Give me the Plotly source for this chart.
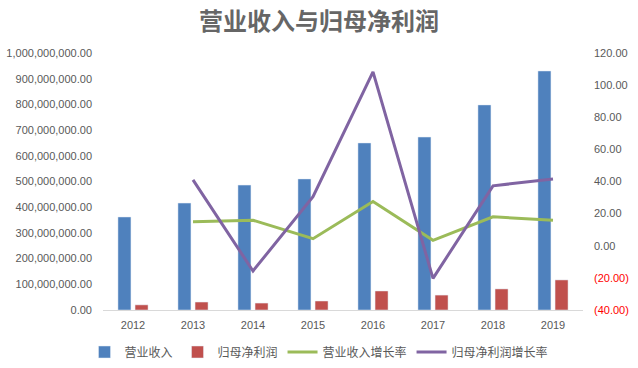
import plotly.graph_objects as go

years = ["2012", "2013", "2014", "2015", "2016", "2017", "2018", "2019"]
revenue = [362e6, 416e6, 486e6, 510e6, 650e6, 673e6, 798e6, 930e6]
net_profit = [20e6, 31e6, 27e6, 35e6, 74e6, 58e6, 82e6, 117e6]
rev_growth = [None, 15.0, 15.9, 4.4, 27.5, 3.4, 18.0, 15.9]
np_growth = [None, 41.0, -15.7, 30.6, 108.2, -20.3, 37.3, 41.6]

left_ticks = [i * 1e8 for i in range(11)]
left_text = [f"{v:,.2f}" for v in left_ticks]
right_ticks = [-40, -20, 0, 20, 40, 60, 80, 100, 120]
right_text = [f'<span style="color:#FF0000">({abs(v):.2f})</span>' if v < 0 else f"{v:.2f}" for v in right_ticks]

fig = go.Figure()
fig.add_trace(go.Bar(x=years, y=revenue, name="营业收入", marker_color="#4F81BD", yaxis="y"))
fig.add_trace(go.Bar(x=years, y=net_profit, name="归母净利润", marker_color="#C0504D", yaxis="y"))
fig.add_trace(go.Scatter(x=years, y=rev_growth, name="营业收入增长率", mode="lines",
                         line=dict(color="#9BBB59", width=3), yaxis="y2"))
fig.add_trace(go.Scatter(x=years, y=np_growth, name="归母净利润增长率", mode="lines",
                         line=dict(color="#8064A2", width=3), yaxis="y2"))

font_family = "Liberation Sans, Noto Sans CJK SC"
fig.update_layout(
    width=638, height=368,
    margin=dict(l=103, r=55, t=53, b=58, autoexpand=False),
    paper_bgcolor="white", plot_bgcolor="white",
    font=dict(family=font_family, size=11, color="#595959"),
    title=dict(text="营业收入与归母净利润", x=0.5, xanchor="center", y=1 - 22 / 368, yanchor="middle",
               font=dict(family="Noto Sans CJK SC", size=24, color="#666666", weight=600)),
    barmode="group", bargap=0.43, bargroupgap=0.24,
    showlegend=True,
    legend=dict(orientation="h", xref="container", x=0.5, xanchor="center",
                yref="container", y=1 - 352 / 368, yanchor="middle",
                font=dict(size=12, color="#595959", family="Noto Sans CJK SC"),
                itemwidth=30, traceorder="normal"),
    xaxis=dict(showline=True, linecolor="#D9D9D9", linewidth=1, ticks="", showgrid=False,
               tickfont=dict(size=11), ticklabelstandoff=5, automargin=False),
    yaxis=dict(range=[0, 1e9], tickvals=left_ticks, ticktext=left_text, showgrid=False,
               zeroline=False, showline=False, ticklabelstandoff=10, tickfont=dict(size=11),
               automargin=False),
    yaxis2=dict(range=[-40, 120], tickvals=right_ticks, ticktext=right_text, overlaying="y",
                side="right", showgrid=False, zeroline=False, showline=False,
                ticklabelstandoff=10, tickfont=dict(size=11), automargin=False),
)

fig.write_html("out.html", config={"displayModeBar": False},
               post_script="document.body.style.margin='0';")
